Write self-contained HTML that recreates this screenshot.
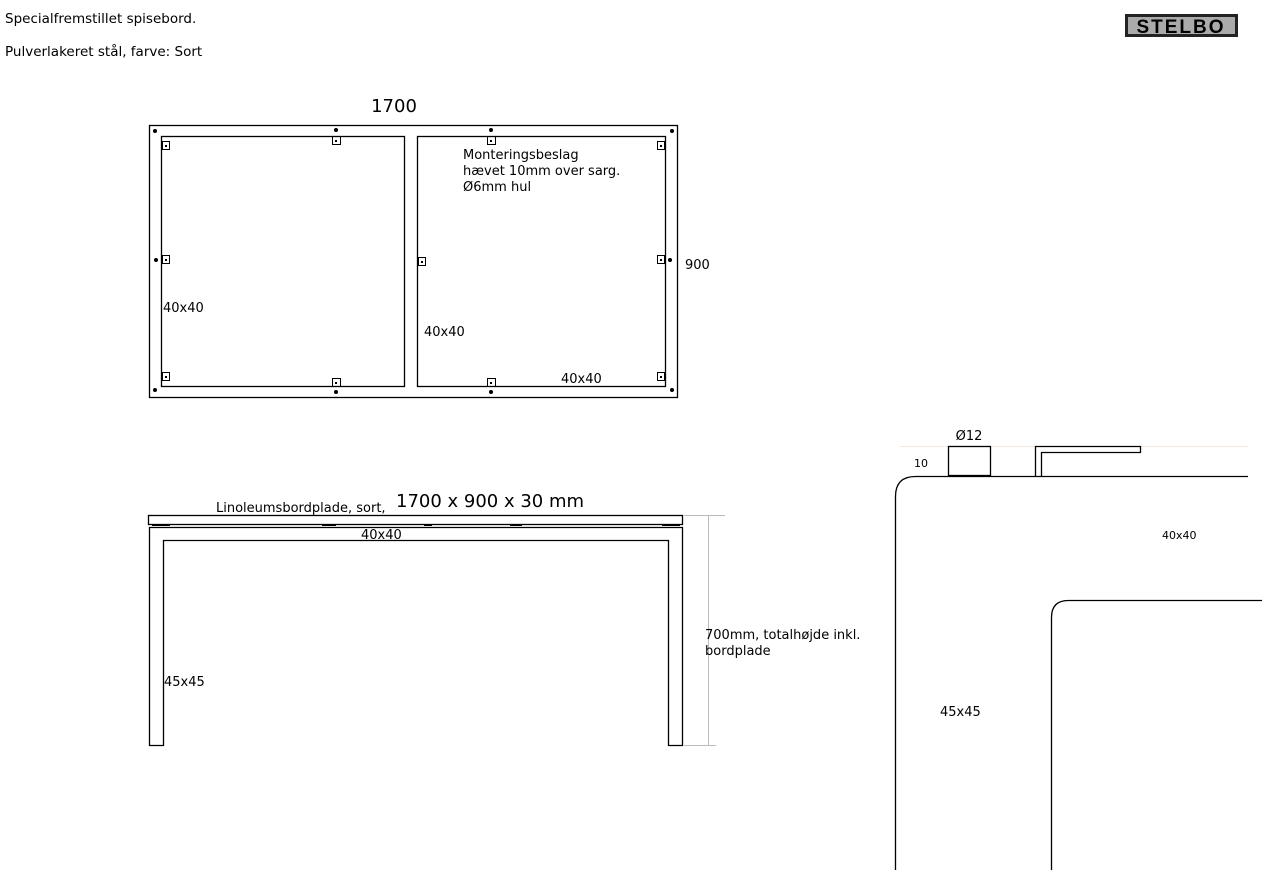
<!DOCTYPE html>
<html><head><style>
body{margin:0;background:#fff;width:1267px;height:878px;overflow:hidden}
svg{display:block}
text{font-family:"DejaVu Sans","Liberation Sans",sans-serif;fill:#000}
</style></head><body>
<svg width="1267" height="878" viewBox="0 0 1267 878">
<text x="5" y="23" font-size="13.5">Specialfremstillet spisebord.</text>
<text x="5" y="56" font-size="13.5">Pulverlakeret stål, farve: Sort</text>
<rect x="1125" y="14" width="113" height="23" fill="#222"/>
<rect x="1128" y="17" width="107" height="17" fill="#aaa"/>
<text x="1181" y="33" font-size="19" font-weight="bold" text-anchor="middle" style="font-family:'Liberation Sans',sans-serif" fill="#111" letter-spacing="2">STELBO</text>

<g fill="none" stroke="#000" stroke-width="1.3">
<rect x="149.5" y="125.5" width="528" height="272"/>
<rect x="161.5" y="136.5" width="243" height="250"/>
<rect x="417.5" y="136.5" width="248" height="250"/>
<g stroke-width="1">
<rect x="162.5" y="141.5" width="7" height="8"/><rect x="332.5" y="136.5" width="8" height="8"/><rect x="487.5" y="136.5" width="8" height="8"/><rect x="657.5" y="141.5" width="7" height="8"/>
<rect x="162.5" y="255.5" width="7" height="8"/><rect x="418.5" y="257.5" width="7" height="8"/><rect x="657.5" y="255.5" width="7" height="8"/>
<rect x="162.5" y="372.5" width="7" height="8"/><rect x="332.5" y="378.5" width="8" height="8"/><rect x="487.5" y="378.5" width="8" height="8"/><rect x="657.5" y="372.5" width="7" height="8"/>
</g>
</g>
<g fill="#000">
<circle cx="155" cy="131" r="2"/><circle cx="336" cy="130" r="2"/><circle cx="491" cy="130" r="2"/><circle cx="672" cy="131" r="2"/>
<circle cx="156" cy="260" r="2"/><circle cx="670" cy="260" r="2"/>
<circle cx="155" cy="390" r="2"/><circle cx="336" cy="392" r="2"/><circle cx="491" cy="392" r="2"/><circle cx="672" cy="390" r="2"/>
<rect x="165" y="145" width="2" height="2"/><rect x="335" y="140" width="2" height="2"/><rect x="490" y="140" width="2" height="2"/><rect x="660" y="145" width="2" height="2"/>
<rect x="165" y="259" width="2" height="2"/><rect x="421" y="261" width="2" height="2"/><rect x="660" y="259" width="2" height="2"/>
<rect x="165" y="376" width="2" height="2"/><rect x="335" y="382" width="2" height="2"/><rect x="490" y="382" width="2" height="2"/><rect x="660" y="376" width="2" height="2"/>
</g>
<text x="394" y="112" font-size="18" text-anchor="middle">1700</text>
<text x="685" y="269" font-size="13">900</text>
<text x="463" y="159" font-size="13">Monteringsbeslag</text>
<text x="463" y="175" font-size="13">hævet 10mm over sarg.</text>
<text x="463" y="191" font-size="13">Ø6mm hul</text>
<text x="163" y="312" font-size="13">40x40</text>
<text x="424" y="336" font-size="13">40x40</text>
<text x="561" y="383" font-size="13">40x40</text>

<text x="216" y="512" font-size="13">Linoleumsbordplade, sort,</text>
<text x="396" y="507" font-size="18">1700 x 900 x 30 mm</text>
<g fill="none" stroke="#000" stroke-width="1.3">
<rect x="148.5" y="515.5" width="534" height="9"/>
<path d="M149.5 745.5V527.5H682.5V745.5H668.5V540.5H163.5V745.5Z"/>
</g>
<g fill="#000"><rect x="152" y="524" width="18" height="2"/><rect x="322" y="524" width="14" height="2"/><rect x="424" y="524" width="8" height="2"/><rect x="510" y="524" width="12" height="2"/><rect x="662" y="524" width="18" height="2"/></g>
<g stroke="#bbb" stroke-width="1"><path d="M684 515.5H725M708.5 515V745M684 745.5H716"/></g>
<text x="361" y="539" font-size="13">40x40</text>
<text x="705" y="639" font-size="13">700mm, totalhøjde inkl.</text>
<text x="705" y="655" font-size="13">bordplade</text>
<text x="164" y="686" font-size="13">45x45</text>

<line x1="900" y1="446.5" x2="1248" y2="446.5" stroke="#f3e8e0"/>
<g fill="none" stroke="#000" stroke-width="1.3">
<path d="M895.5 870V496.5Q895.5 476.5 915.5 476.5H1248"/>
<path d="M1051.5 870V617.5Q1051.5 600.5 1068.5 600.5H1262"/>
<rect x="948.5" y="446.5" width="42" height="29"/>
<path d="M1035.5 476V446.5H1140.5V452.5H1041.5V476"/>
</g>
<text x="969" y="440" font-size="13" text-anchor="middle">Ø12</text>
<text x="914" y="467" font-size="11">10</text>
<text x="1162" y="539" font-size="11">40x40</text>
<text x="940" y="716" font-size="13">45x45</text>
</svg>
</body></html>
